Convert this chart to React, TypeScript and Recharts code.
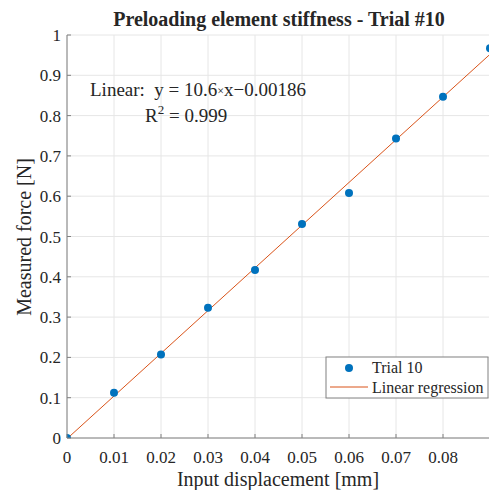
import { ComposedChart, Scatter, Line, XAxis, YAxis, CartesianGrid, Customized } from 'recharts'

const displacement = [0, 0.01, 0.02, 0.03, 0.04, 0.05, 0.06, 0.07, 0.08, 0.09]
const force = [0, 0.112, 0.207, 0.323, 0.417, 0.531, 0.608, 0.743, 0.847, 0.967]
const fitX = [0, 0.09]
const fitY = [-0.00186, 0.95214]
const xTicks = [0, 0.01, 0.02, 0.03, 0.04, 0.05, 0.06, 0.07, 0.08]
const yTicks = [0, 0.1, 0.2, 0.3, 0.4, 0.5, 0.6, 0.7, 0.8, 0.9, 1]

const trial = displacement.map((x, i) => ({ x, y: force[i] }))
const fit = fitX.map((x, i) => ({ x, y: fitY[i] }))

const FONT = '"Liberation Serif", "Times New Roman", serif'
const TXT = '#262626'
const AXIS = '#808080'
const BLUE = '#0072BD'
const ORANGE = '#D95319'

const fmt = (v: number) => String(+v.toFixed(2))

function XTick({ x, y, payload }: any) {
  const axisY = y - 8
  return (
    <g>
      <line x1={x} x2={x} y1={axisY} y2={axisY - 4} stroke={AXIS} />
      <text x={x} y={axisY + 25} textAnchor="middle" fontFamily={FONT} fontSize={17} fill={TXT}>
        {fmt(payload.value)}
      </text>
    </g>
  )
}

function YTick({ x, y, payload }: any) {
  const axisX = x + 6
  return (
    <g>
      <line x1={axisX} x2={axisX + 4} y1={y} y2={y} stroke={AXIS} />
      <text x={x} y={y + 6} textAnchor="end" fontFamily={FONT} fontSize={17} fill={TXT}>
        {fmt(payload.value)}
      </text>
    </g>
  )
}

function Labels() {
  return (
    <g fontFamily={FONT} fill={TXT}>
      <text x={279} y={26} textAnchor="middle" fontSize={20} fontWeight="bold">
        Preloading element stiffness - Trial #10
      </text>
      <text x={278} y={486} textAnchor="middle" fontSize={20}>Input displacement [mm]</text>
      <text x={31} y={237} textAnchor="middle" fontSize={20} transform="rotate(-90 31 237)">
        Measured force [N]
      </text>
      <text x={90} y={96} fontSize={19} xmlSpace="preserve">
        {'Linear:  y = 10.6'}
        <tspan fontSize={12} dy={-1}>{'×'}</tspan>
        <tspan dy={1}>{'x\u22120.00186'}</tspan>
      </text>
      <text x={145} y={122} fontSize={19}>
        R<tspan fontSize={13} dy={-8}>2</tspan>
        <tspan dy={8}>{' = 0.999'}</tspan>
      </text>
      <g>
        <rect x={326} y={357} width={162} height={41} fill="#fff" stroke={AXIS} />
        <circle cx={349} cy={368} r={4} fill={BLUE} />
        <text x={372} y={373} fontSize={16}>Trial 10</text>
        <line x1={330} x2={368} y1={387} y2={387} stroke={ORANGE} />
        <text x={372} y={393} fontSize={16}>Linear regression</text>
      </g>
    </g>
  )
}

export default function App() {
  return (
    <div style={{ position: 'absolute', left: 0, top: 0, width: 489, height: 490, overflow: 'hidden', background: '#fff' }}>
      <ComposedChart width={500} height={490} margin={{ top: 35, right: 10, left: 27, bottom: 22 }}>
        <CartesianGrid stroke="#e6e6e6" />
        <XAxis
          type="number"
          dataKey="x"
          domain={[0, 0.09]}
          ticks={xTicks}
          allowDataOverflow
          height={30}
          stroke={AXIS}
          tickLine={false}
          tickSize={0}
          tickMargin={8}
          tick={<XTick />}
        />
        <YAxis
          type="number"
          dataKey="y"
          domain={[0, 1]}
          ticks={yTicks}
          allowDataOverflow
          width={40}
          stroke={AXIS}
          tickLine={false}
          tickSize={0}
          tickMargin={6}
          tick={<YTick />}
        />
        <Line data={fit} dataKey="y" type="linear" stroke={ORANGE} strokeWidth={1} dot={false} isAnimationActive={false} />
        <Scatter data={trial} dataKey="y" fill={BLUE} shape={(p: any) => <circle cx={p.cx} cy={p.cy} r={4} fill={BLUE} />} isAnimationActive={false} />
        <Customized component={<Labels />} />
      </ComposedChart>
    </div>
  )
}
